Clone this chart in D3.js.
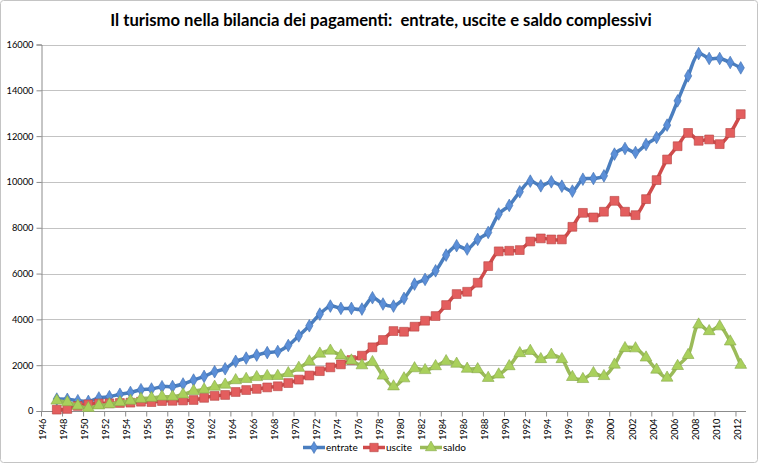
<!DOCTYPE html>
<html><head><meta charset="utf-8">
<script src="https://cdn.jsdelivr.net/npm/d3@7"></script>
<style>body{margin:0;background:#fff}svg{display:block}text{font-family:Lato,"Open Sans",sans-serif}</style>
</head><body>
<svg id="c" width="760" height="465"></svg>
<script>
const titleText = "Il turismo nella bilancia dei pagamenti:\u00a0 entrate, uscite e saldo complessivi";
const years = [1947,1948,1949,1950,1951,1952,1953,1954,1955,1956,1957,1958,1959,1960,1961,1962,1963,1964,1965,1966,1967,1968,1969,1970,
1971,1972,1973,1974,1975,1976,1977,1978,1979,1980,1981,1982,1983,1984,1985,1986,1987,1988,1989,1990,1991,1992,
1993,1994,1995,1996,1997,1998,1999,2000,2001,2002,2003,2004,2005,2006,2007,2008,2009,2010,2011,2012];
const entrate = [520,510,450,420,570,625,730,810,930,960,1060,1070,1180,1350,1510,1715,1845,2170,2310,2440,2550,2600,2860,3280,
3720,4230,4580,4480,4480,4450,4945,4670,4580,4915,5540,5745,6120,6805,7215,7070,7490,7795,8600,8975,9570,10035,
9830,10005,9815,9600,10120,10150,10265,11215,11460,11285,11635,11940,12480,13540,14630,15605,15390,15390,15215,14980];
const uscite = [60,90,220,290,330,335,350,365,405,390,435,445,460,480,575,660,700,830,915,965,1030,1080,1220,1370,
1550,1740,1905,2035,2225,2415,2780,3100,3490,3460,3680,3940,4145,4625,5105,5205,5600,6325,6970,6995,7025,7400,
7535,7490,7490,8040,8650,8450,8700,9175,8700,8550,9250,10080,10980,11560,12140,11795,11855,11650,12140,12960];
const saldo = [450,380,230,130,240,290,380,445,525,570,625,625,720,870,935,1055,1145,1340,1395,1475,1520,1525,1645,1880,
2160,2500,2630,2420,2200,1990,2130,1540,1070,1420,1860,1780,1950,2170,2060,1840,1820,1440,1590,1950,2520,2620,
2260,2450,2260,1480,1390,1650,1520,2020,2740,2730,2330,1800,1450,1960,2440,3770,3480,3690,3030,2010];
const xTickLabels = [1946,1948,1950,1952,1954,1956,1958,1960,1962,1964,1966,1968,1970,1972,1974,1976,1978,1980,1982,1984,1986,1988,1990,1992,1994,1996,1998,2000,2002,2004,2006,2008,2010,2012];
const yTicks = [0,2000,4000,6000,8000,10000,12000,14000,16000];
const seriesNames = ["entrate","uscite","saldo"];

const svg = d3.select("#c");
const L = 41, R = 746, T = 44.5, B = 411;
const x = d3.scaleLinear().domain([1946, 2013]).range([L, R]);
const y = d3.scaleLinear().domain([0, 16000]).range([B, T]);

// frame
svg.append("rect").attr("x",0.5).attr("y",0.5).attr("width",757).attr("height",462)
  .attr("rx",3).attr("fill","#fff").attr("stroke","#c4c4c4");

// title
const title = svg.append("text").attr("x",381).attr("y",26).attr("text-anchor","middle")
  .attr("font-weight","bold").attr("font-size",16).attr("fill","#000").text(titleText);
const tw = title.node().getComputedTextLength();
title.attr("font-size", 16*542/tw);

// grid
svg.append("g").selectAll("line").data(yTicks.filter(d=>d>0)).join("line")
  .attr("x1",L).attr("x2",R).attr("y1",d=>Math.round(y(d))+0.5).attr("y2",d=>Math.round(y(d))+0.5)
  .attr("stroke","#c3c3c3").attr("stroke-width",1.2);

// y axis
const ya = svg.append("g").attr("transform",`translate(${L+0.5},0)`)
  .call(d3.axisLeft(y).tickValues(yTicks).tickSize(5).tickPadding(3).tickFormat(d3.format("d")));
ya.select(".domain").attr("stroke","#8c8c8c");
ya.selectAll(".tick line").attr("stroke","#8c8c8c");
ya.selectAll(".tick text").attr("font-size",9.3).attr("fill","#000").attr("x",-8);

// x axis
const xa = svg.append("g").attr("transform",`translate(0,${B+0.5})`)
  .call(d3.axisBottom(x).tickValues(xTickLabels).tickSize(5).tickFormat(d3.format("d")));
xa.select(".domain").attr("stroke","#8c8c8c").attr("d",`M${L},0H${R}`);
xa.selectAll(".tick line").attr("stroke","#8c8c8c");
xa.selectAll(".tick text").attr("font-size",9.3).attr("fill","#000")
  .attr("text-anchor","end").attr("transform","translate(1.5,7) rotate(-90)").attr("x",0).attr("y",0).attr("dy","0.35em");

const styles = {
  entrate:{line:"#4a7ebf", fill:"#5b8fd8", stroke:"#3e6dae", sym:d3.symbolDiamond, size:46},
  uscite:{line:"#d04b4b", fill:"#e35e5e", stroke:"#b64341", sym:d3.symbolSquare, size:78},
  saldo:{line:"#9bbb59", fill:"#a9d05c", stroke:"#86a84a", sym:d3.symbolTriangle, size:60}
};
const dataBy = {entrate, uscite, saldo};
const line = d3.line().x((d,i)=>x(years[i]+0.5)).y(d=>y(d)).curve(d3.curveCatmullRom.alpha(0.5));

seriesNames.forEach(name=>{
  const s = styles[name], vals = dataBy[name];
  const g = svg.append("g");
  g.append("path").attr("d",line(vals)).attr("fill","none").attr("stroke",s.line)
    .attr("stroke-width",3.5).attr("stroke-linejoin","round");
  g.selectAll("path.m").data(vals).join("path").attr("class","m")
    .attr("transform",(d,i)=>`translate(${x(years[i]+0.5)},${y(d)})`)
    .attr("d",d3.symbol().type(s.sym).size(s.size)).attr("fill",s.fill).attr("stroke",s.stroke).attr("stroke-width",0.6);
});

// legend
const legX = [303, 363, 420], legY = 447.5;
seriesNames.forEach((name,i)=>{
  const s = styles[name];
  const g = svg.append("g").attr("transform",`translate(${legX[i]},${legY})`);
  g.append("line").attr("x1",0).attr("x2",22).attr("stroke",s.line).attr("stroke-width",3.5);
  g.append("path").attr("transform","translate(11,0)").attr("d",d3.symbol().type(s.sym).size(s.size*0.9))
    .attr("fill",s.fill).attr("stroke",s.stroke).attr("stroke-width",0.6);
  g.append("text").attr("x",23).attr("dy","0.35em").attr("font-size",10).attr("fill","#000").text(name);
});
</script>
</body></html>
